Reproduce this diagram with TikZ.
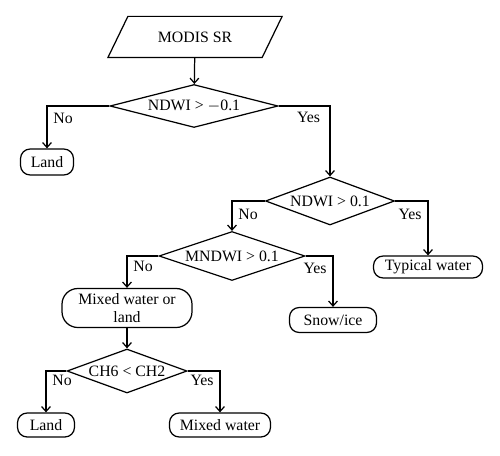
\documentclass[tikz,border=0pt]{standalone}
\usepackage{fontspec}
\setmainfont{Liberation Serif}
\usetikzlibrary{shapes.geometric, arrows.meta}
\begin{document}
\begin{tikzpicture}[line width=0.7pt, font=\fontsize{9}{10}\selectfont, >={Straight Barb[length=2.8pt, width=5pt]},
    decision/.style={diamond, draw, inner sep=-3pt},
    terminal/.style={rectangle, draw, rounded corners=5.5pt, inner sep=0pt}]
        \useasboundingbox (0,0) rectangle (10,-9.1);
        \node[minimum width=3.06cm, minimum height=0.8cm, inner sep=0pt] (src) at (3.9,-0.74) {MODIS SR};
        \draw ([xshift=0.2cm]src.north west) -- ([xshift=0.2cm]src.north east) -- ([xshift=-0.2cm]src.south east) -- ([xshift=-0.2cm]src.south west) -- cycle;
        \node[decision, aspect=3.9, minimum width=3.36cm, minimum height=0.86cm] (d1) at (3.88,-2.12) {NDWI > $-$0.1};
        \node[terminal, minimum width=1.06cm, minimum height=0.52cm] (land1) at (0.94,-3.24) {Land};
        \node[decision, aspect=2.7, minimum width=2.58cm, minimum height=0.96cm] (d2) at (6.6,-4.02) {NDWI > 0.1};
        \node[terminal, minimum width=2.18cm, minimum height=0.44cm] (typ) at (8.56,-5.34) {Typical water};
        \node[decision, aspect=3, minimum width=2.92cm, minimum height=0.98cm] (d3) at (4.64,-5.12) {MNDWI > 0.1};
        \node[terminal, minimum width=1.74cm, minimum height=0.5cm] (snow) at (6.66,-6.4) {Snow/ice};
        \node[terminal, rounded corners=9pt, minimum width=2.6cm, minimum height=0.78cm, align=center] (mix) at (2.54,-6.16) {Mixed water or\\land};
        \node[decision, aspect=2.7, minimum width=2.4cm, minimum height=0.88cm] (d4) at (2.54,-7.42) {CH6 < CH2};
        \node[terminal, minimum width=1.14cm, minimum height=0.48cm] (land2) at (0.92,-8.5) {Land};
        \node[terminal, minimum width=2.02cm, minimum height=0.48cm] (mixw) at (4.4,-8.5) {Mixed water};
        \draw[->] (src) -- (d1);
        \draw[->] (d1.west) -| node[right, pos=0.65] {No} (land1);
        \draw[->] (d1.east) -| node[left, pos=0.58, xshift=-2pt] {Yes} (d2);
        \draw[->] (d2.west) -| node[right, pos=0.72] {No} (d3);
        \draw[->] (d2.east) -| node[left, pos=0.62] {Yes} (typ);
        \draw[->] (d3.west) -| node[right, pos=0.67] {No} (mix);
        \draw[->] (d3.east) -| node[left, pos=0.625] {Yes} (snow);
        \draw[->] (mix) -- (d4);
        \draw[->] (d4.west) -| node[right, pos=0.61] {No} (land2);
        \draw[->] (d4.east) -| node[left, pos=0.61] {Yes} (mixw);
    \end{tikzpicture}
\end{document}
